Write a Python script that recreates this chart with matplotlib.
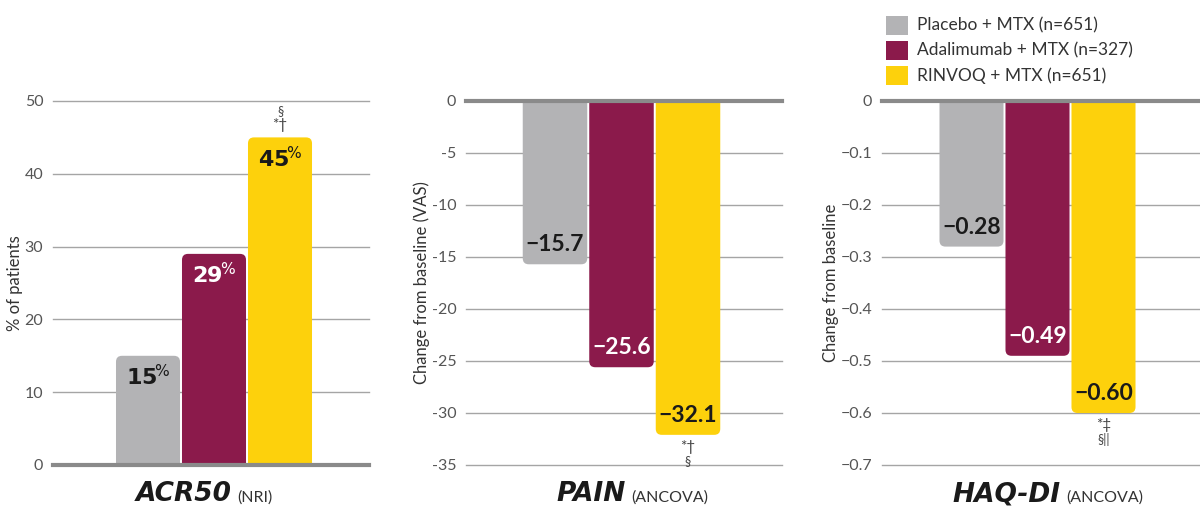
import matplotlib
matplotlib.use('Agg')
import matplotlib.pyplot as plt
from matplotlib.patches import FancyBboxPatch, Patch

plt.rcParams['font.family'] = ['Lato', 'DejaVu Sans']

# data
groups = ['Placebo + MTX (n=651)', 'Adalimumab + MTX (n=327)', 'RINVOQ + MTX (n=651)']
colors = ['#b3b3b5', '#8b1a4b', '#fdd10c']
text_colors = ['#1a1a1a', 'white', '#1a1a1a']

acr50 = [15, 29, 45]
acr50_labels = ['15', '29', '45']
pain = [-15.7, -25.6, -32.1]
pain_labels = ['\u221215.7', '\u221225.6', '\u221232.1']
haq = [-0.28, -0.49, -0.60]
haq_labels = ['\u22120.28', '\u22120.49', '\u22120.60']

panels = [
    dict(vals=acr50, labels=acr50_labels, pct=True, ylim=(0, 50),
         ticks=[0, 10, 20, 30, 40, 50], ticklabels=['0', '10', '20', '30', '40', '50'],
         ylabel='% of patients', title='ACR50', sub='(NRI)', notes=['\u00a7', '*\u2020'],
         rect=[53, 369], xl=(148, 66)),
    dict(vals=pain, labels=pain_labels, pct=False, ylim=(-35, 0),
         ticks=[0, -5, -10, -15, -20, -25, -30, -35],
         ticklabels=['0', '-5', '-10', '-15', '-20', '-25', '-30', '-35'],
         ylabel='Change from baseline (VAS)', title='PAIN', sub='(ANCOVA)', notes=['*\u2020', '\u00a7'],
         rect=[466, 782], xl=(555, 66.5)),
    dict(vals=haq, labels=haq_labels, pct=False, ylim=(-0.7, 0),
         ticks=[0, -0.1, -0.2, -0.3, -0.4, -0.5, -0.6, -0.7],
         ticklabels=['0', '\u22120.1', '\u22120.2', '\u22120.3', '\u22120.4', '\u22120.5', '\u22120.6', '\u22120.7'],
         ylabel='Change from baseline', title='HAQ-DI', sub='(ANCOVA)', notes=['*\u2021', '\u00a7||'],
         rect=[882, 1200], xl=(971.5, 66)),
]

W, H = 1200, 516
fig = plt.figure(figsize=(12, 5.16), dpi=100)
top_px, bot_px = 101, 465
width = 0.97
rad_px = 6

for p in panels:
    x0, x1 = p['rect']
    ax = fig.add_axes([x0 / W, 1 - bot_px / H, (x1 - x0) / W, (bot_px - top_px) / H])
    c, sp = p['xl']
    ax.set_xlim((x0 - c) / sp, (x1 - c) / sp)
    ax.set_ylim(*p['ylim'])
    for s in ax.spines.values():
        s.set_visible(False)
    ax.set_xticks([])
    ax.set_yticks(p['ticks'])
    ax.set_yticklabels(p['ticklabels'], fontsize=11.5, color='#555555')
    ax.tick_params(axis='y', length=0, pad=7)
    ax.set_ylabel(p['ylabel'], fontsize=12, color='#333333', labelpad=1)

    for t in p['ticks']:
        if t == 0:
            ax.axhline(0, color='#8a8a8a', lw=3, zorder=5, clip_on=False)
        else:
            ax.axhline(t, color='#a5a5a5', lw=1, zorder=0, clip_on=False)

    yspan = p['ylim'][1] - p['ylim'][0]
    ypp = yspan / (bot_px - top_px)
    xpp = 1 / sp
    aspect = ypp / xpp
    r = rad_px * xpp

    for i, v in enumerate(p['vals']):
        ext = rad_px * ypp * 2
        if v > 0:
            y0, h = -ext, v + ext
        else:
            y0, h = v, -v + ext
        box = FancyBboxPatch((i - width / 2, y0), width, h,
                             boxstyle='round,pad=0,rounding_size=%f' % r,
                             mutation_aspect=aspect, fc=colors[i], ec='none', zorder=2)
        ax.add_patch(box)
        lab = p['labels'][i]
        if p['pct']:
            s = r'$\mathbf{' + lab + r'}^{\!\%}$'
            ax.annotate(s, (i, v), xytext=(0, -15), textcoords='offset points',
                        ha='center', va='center', fontsize=16, color=text_colors[i], zorder=6)
        else:
            ax.annotate(lab, (i, v), xytext=(0, 14), textcoords='offset points',
                        ha='center', va='center', fontsize=16.5, fontweight='bold',
                        color=text_colors[i], zorder=6)

    # footnote symbols on RINVOQ bar
    v = p['vals'][2]
    if v > 0:
        ax.annotate(p['notes'][1], (2, v), xytext=(0, 9), textcoords='offset points',
                    ha='center', va='center', fontsize=11, color='#444444', annotation_clip=False)
        ax.annotate(p['notes'][0], (2, v), xytext=(0, 19), textcoords='offset points',
                    ha='center', va='center', fontsize=9, color='#444444', annotation_clip=False)
    else:
        ax.annotate(p['notes'][0], (2, v), xytext=(0, -9), textcoords='offset points',
                    ha='center', va='center', fontsize=11, color='#444444', annotation_clip=False)
        ax.annotate(p['notes'][1], (2, v), xytext=(0, -19), textcoords='offset points',
                    ha='center', va='center', fontsize=9, color='#444444', annotation_clip=False)

    # category title under the panel
    t1 = ax.annotate(p['title'], (1, 0), xycoords=('data', 'axes fraction'),
                     xytext=(-22, -21), textcoords='offset points',
                     ha='center', va='center', fontsize=19, fontweight='heavy',
                     fontstyle='italic', family=['DejaVu Sans'], color='#1a1a1a',
                     annotation_clip=False)
    ax.annotate(p['sub'], (1, 0), xycoords=t1, xytext=(4, 2), textcoords='offset points',
                ha='left', va='bottom', fontsize=11.5, color='#333333')

handles = [Patch(fc=c, ec='none') for c in colors]
fig.legend(handles, groups, loc='upper left', bbox_to_anchor=(870 / W, 1.0), frameon=False,
           fontsize=12.5, handlelength=1.3, handleheight=1.3, handletextpad=0.5,
           labelspacing=0.35, labelcolor='#333333')

fig.savefig('out.png', dpi=100)
